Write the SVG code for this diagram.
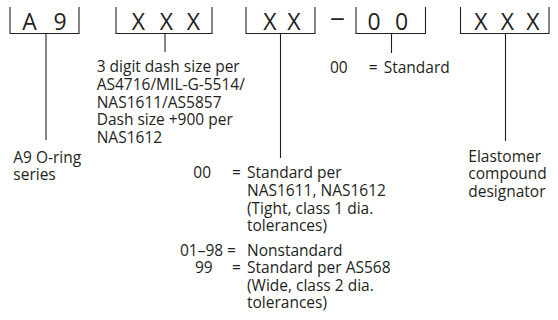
<svg xmlns="http://www.w3.org/2000/svg" width="558" height="320" viewBox="0 0 558 320">
<style>
.br{fill:none;stroke:#231f20;stroke-width:1.1}
.ln{stroke:#231f20;stroke-width:1.1}
.big{font-family:"Open Sans","DejaVu Sans",sans-serif;font-size:23px;fill:#231f20;text-anchor:middle}
.t{font-family:"Open Sans","DejaVu Sans",sans-serif;font-size:15.5px;fill:#231f20}
</style>
<rect width="558" height="320" fill="#ffffff"/>
<g id="node-a9">
<path class="br" d="M10,7V33.5H79V7"/>
<text class="big" y="29.5"><tspan x="29.5">A</tspan><tspan x="60">9</tspan></text>
</g>
<g id="node-size">
<path class="br" d="M116,7V33.5H212V7"/>
<text class="big" y="29.5"><tspan x="138.5">X</tspan><tspan x="166.5">X</tspan><tspan x="193.5">X</tspan></text>
</g>
<g id="node-xx">
<path class="br" d="M246,7V33.5H315V7"/>
<text class="big" y="29.5"><tspan x="270">X</tspan><tspan x="294">X</tspan></text>
</g>
<g id="node-dash">
<text class="big" x="337.5" y="25.5" textLength="15" lengthAdjust="spacingAndGlyphs">–</text>
</g>
<g id="node-00">
<path class="br" d="M356,7V33.5H425.5V7"/>
<text class="big" y="29.5"><tspan x="374">0</tspan><tspan x="401.5">0</tspan></text>
</g>
<g id="node-compound">
<path class="br" d="M460.5,7V33.5H549V7"/>
<text class="big" y="29.5"><tspan x="481">X</tspan><tspan x="507.5">X</tspan><tspan x="533">X</tspan></text>
</g>
<g id="connectors">
<line class="ln" x1="46" y1="33.5" x2="46" y2="140"/>
<line class="ln" x1="165" y1="33.5" x2="165" y2="52"/>
<line class="ln" x1="280.5" y1="33.5" x2="280.5" y2="158"/>
<line class="ln" x1="391.5" y1="33.5" x2="391.5" y2="53"/>
<line class="ln" x1="505.5" y1="33.5" x2="505.5" y2="141"/>
</g>
<g id="label-a9">
<text class="t" x="13.3" y="162.7">A9 O-ring</text>
<text class="t" x="13.3" y="180">series</text>
</g>
<g id="label-size">
<text class="t" x="96.7" y="72.3">3 digit dash size per</text>
<text class="t" x="96.7" y="90">AS4716/MIL-G-5514/</text>
<text class="t" x="96.7" y="107.5">NAS1611/AS5857</text>
<text class="t" x="96.7" y="125">Dash size +900 per</text>
<text class="t" x="96.7" y="142.5">NAS1612</text>
</g>
<g id="label-00">
<text class="t" x="330" y="73">00</text>
<text class="t" x="368.7" y="73">=</text>
<text class="t" x="383.7" y="73">Standard</text>
</g>
<g id="label-xx">
<text class="t" x="193.3" y="178.3">00</text>
<text class="t" x="232" y="178.3">=</text>
<text class="t" x="247" y="178.3">Standard per</text>
<text class="t" x="247" y="196">NAS1611, NAS1612</text>
<text class="t" x="247" y="213.5">(Tight, class 1 dia.</text>
<text class="t" x="247" y="231">tolerances)</text>
<text class="t" x="180" y="255.5">01–98</text>
<text class="t" x="227" y="255.5">=</text>
<text class="t" x="247" y="255.5">Nonstandard</text>
<text class="t" x="195" y="273">99</text>
<text class="t" x="232" y="273">=</text>
<text class="t" x="247" y="273">Standard per AS568</text>
<text class="t" x="247" y="290.5">(Wide, class 2 dia.</text>
<text class="t" x="247" y="308">tolerances)</text>
</g>
<g id="label-compound">
<text class="t" x="468.3" y="161.7">Elastomer</text>
<text class="t" x="468.3" y="179">compound</text>
<text class="t" x="468.3" y="196.5">designator</text>
</g>
</svg>
